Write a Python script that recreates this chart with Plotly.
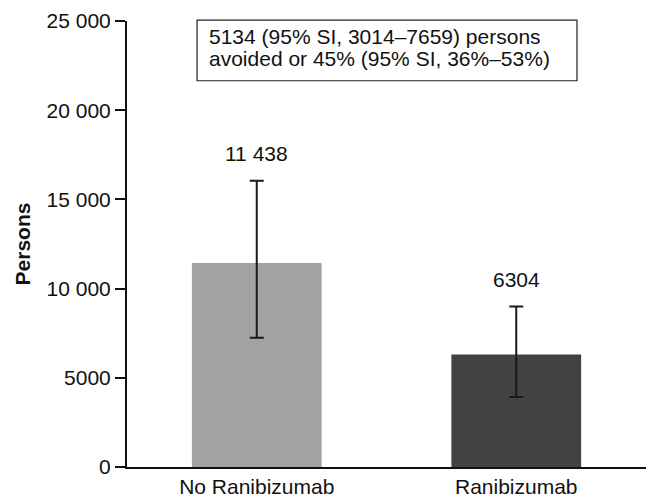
import plotly.graph_objects as go

# Persons with the outcome, with and without ranibizumab treatment
categories = ["No Ranibizumab", "Ranibizumab"]
persons = [11438, 6304]
ci_upper = [16050, 8990]
ci_lower = [7250, 3920]
value_labels = ["11 438", "6304"]
bar_colors = ["#a2a2a2", "#424242"]

y_tickvals = [0, 5000, 10000, 15000, 20000, 25000]
y_ticktext = ["0", "5000", "10 000", "15 000", "20 000", "25 000"]

summary_lines = [
    "5134 (95% SI, 3014–7659) persons",
    "avoided or 45% (95% SI, 36%–53%)",
]

FONT = "Liberation Sans, Arial, Helvetica, sans-serif"
FS = 21

err_plus = [u - v for u, v in zip(ci_upper, persons)]
err_minus = [v - l for v, l in zip(persons, ci_lower)]

fig = go.Figure(
    go.Bar(
        x=categories,
        y=persons,
        width=0.5,
        marker=dict(color=bar_colors, line=dict(width=0)),
        error_y=dict(
            type="data",
            symmetric=False,
            array=err_plus,
            arrayminus=err_minus,
            color="#1a1a1a",
            thickness=2,
            width=7,
        ),
        showlegend=False,
    )
)

# value labels above the upper interval limits
for cat, hi, txt in zip(categories, ci_upper, value_labels):
    fig.add_annotation(
        x=cat, y=hi, text=txt, showarrow=False,
        xanchor="center", yanchor="bottom", yshift=14,
        font=dict(family=FONT, size=FS, color="#111111"),
    )

# summary box
fig.add_shape(
    type="rect", xref="paper", yref="paper",
    x0=0.135, x1=0.867, y0=0.866, y1=1.002,
    line=dict(color="#222222", width=1.2), fillcolor="rgba(0,0,0,0)",
)
for i, line in enumerate(summary_lines):
    fig.add_annotation(
        xref="paper", yref="paper", x=0.155, y=0.966 - i * 0.05,
        text=line, showarrow=False, xanchor="left", yanchor="middle",
        font=dict(family=FONT, size=FS, color="#111111"),
    )

fig.update_layout(
    width=648, height=500,
    margin=dict(l=127, r=2, t=21, b=31),
    plot_bgcolor="white", paper_bgcolor="white",
    font=dict(family=FONT, size=FS, color="#111111"),
    bargap=0.5,
)
fig.update_xaxes(
    range=[-0.5, 1.5], showline=True, linecolor="#111111", linewidth=2,
    ticks="", showgrid=False, zeroline=False,
    tickfont=dict(family=FONT, size=FS, color="#111111"),
)
fig.update_yaxes(
    range=[0, 25000], tickvals=y_tickvals, ticktext=y_ticktext,
    showline=True, linecolor="#111111", linewidth=2,
    ticks="outside", ticklen=10, tickwidth=2, tickcolor="#111111",
    ticklabelstandoff=0,
    showgrid=False, zeroline=False,
    tickfont=dict(family=FONT, size=FS, color="#111111"),
    title=dict(text="<b>Persons</b>", standoff=10,
               font=dict(family=FONT, size=FS, color="#111111")),
)

fig.write_html("out.html")
